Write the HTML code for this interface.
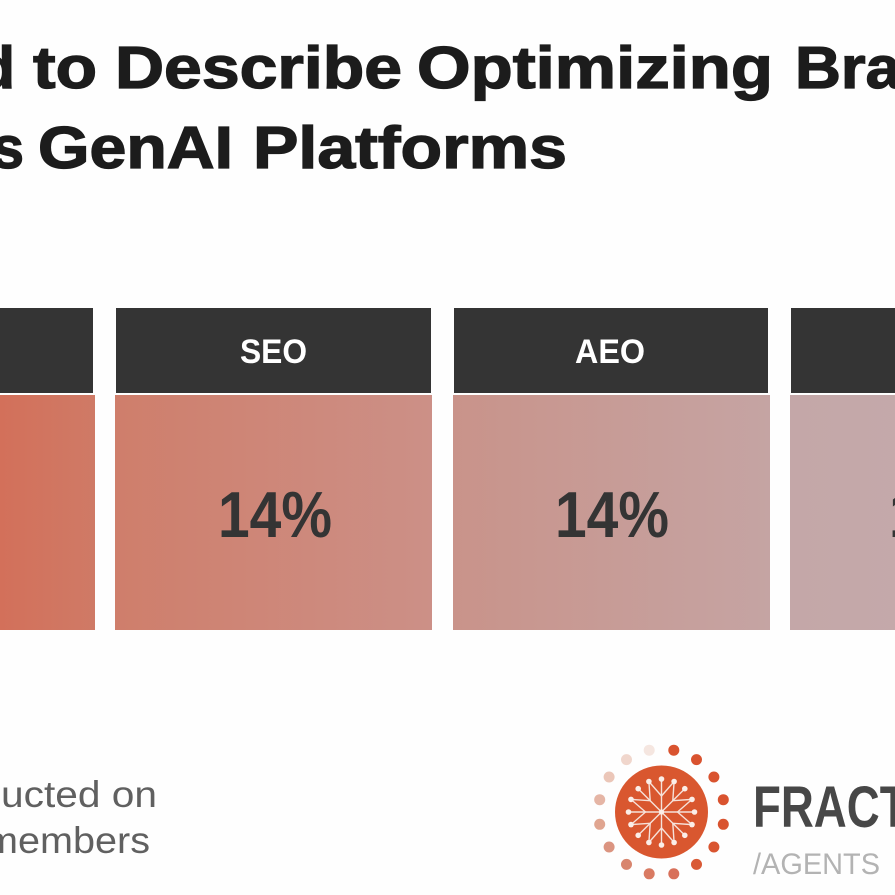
<!DOCTYPE html>
<html>
<head>
<meta charset="utf-8">
<style>
  html,body{margin:0;padding:0;background:#fefefe;}
  svg{display:block;}
  text{font-family:"Liberation Sans",sans-serif;}
</style>
</head>
<body>
<svg width="895" height="895" viewBox="0 0 895 895" xmlns="http://www.w3.org/2000/svg">
  <defs>
    <linearGradient id="g1" x1="0" x2="1" y1="0" y2="0">
      <stop offset="0" stop-color="#d3705a"/>
      <stop offset="1" stop-color="#cf7a66"/>
    </linearGradient>
    <linearGradient id="g2" x1="0" x2="1" y1="0" y2="0">
      <stop offset="0" stop-color="#cf7e6b"/>
      <stop offset="1" stop-color="#cc9087"/>
    </linearGradient>
    <linearGradient id="g3" x1="0" x2="1" y1="0" y2="0">
      <stop offset="0" stop-color="#c9938a"/>
      <stop offset="1" stop-color="#c5a4a3"/>
    </linearGradient>
    <linearGradient id="g4" x1="0" x2="1" y1="0" y2="0">
      <stop offset="0" stop-color="#c4a7a8"/>
      <stop offset="1" stop-color="#c4a9aa"/>
    </linearGradient>
  </defs>

  <rect width="895" height="895" fill="#fefefe"/>

  <!-- Title -->
  <g font-weight="bold" font-size="59" fill="#1c1c1c" stroke="#1c1c1c" stroke-width="1.3">
    <text x="-22" y="88" textLength="37" lengthAdjust="spacingAndGlyphs">d</text>
    <text x="33" y="88" textLength="64" lengthAdjust="spacingAndGlyphs">to</text>
    <text x="115" y="88" textLength="287" lengthAdjust="spacingAndGlyphs">Describe</text>
    <text x="417" y="88" textLength="356" lengthAdjust="spacingAndGlyphs">Optimizing</text>
    <text x="795" y="88" textLength="106" lengthAdjust="spacingAndGlyphs">Bra</text>
    <text x="-8" y="168" textLength="32" lengthAdjust="spacingAndGlyphs">s</text>
    <text x="38" y="168" textLength="195" lengthAdjust="spacingAndGlyphs">GenAI</text>
    <text x="253" y="168" textLength="314" lengthAdjust="spacingAndGlyphs">Platforms</text>
  </g>

  <!-- Boxes -->
  <rect x="0" y="308" width="93" height="85" fill="#343434"/>
  <rect x="0" y="395" width="95" height="235" fill="url(#g1)"/>

  <rect x="116" y="308" width="315" height="85" fill="#343434"/>
  <rect x="115" y="395" width="317" height="235" fill="url(#g2)"/>

  <rect x="454" y="308" width="314" height="85" fill="#343434"/>
  <rect x="453" y="395" width="317" height="235" fill="url(#g3)"/>

  <rect x="791" y="308" width="120" height="85" fill="#343434"/>
  <rect x="790" y="395" width="120" height="235" fill="url(#g4)"/>

  <g font-weight="bold" font-size="34" fill="#ffffff">
    <text x="240" y="363" textLength="67" lengthAdjust="spacingAndGlyphs">SEO</text>
    <text x="575" y="363" textLength="70" lengthAdjust="spacingAndGlyphs">AEO</text>
  </g>
  <g font-weight="bold" font-size="65" fill="#343434">
    <text x="218" y="537" textLength="114" lengthAdjust="spacingAndGlyphs">14%</text>
    <text x="555" y="537" textLength="114" lengthAdjust="spacingAndGlyphs">14%</text>
    <text x="889" y="537" textLength="114" lengthAdjust="spacingAndGlyphs">14%</text>
  </g>

  <!-- Footer text -->
  <g font-size="37" fill="#606060">
    <text x="1" y="807" textLength="156" lengthAdjust="spacingAndGlyphs">ucted on</text>
    <text x="-15" y="853" textLength="165" lengthAdjust="spacingAndGlyphs">members</text>
  </g>

  <!-- Logo -->
  <g>
    <circle cx="673.8" cy="750.2" r="5.5" fill="#d9532f"/>
    <circle cx="696.5" cy="759.6" r="5.5" fill="#d9532f"/>
    <circle cx="713.9" cy="777.0" r="5.5" fill="#d9532f"/>
    <circle cx="723.3" cy="799.7" r="5.5" fill="#d9532f"/>
    <circle cx="723.3" cy="824.3" r="5.5" fill="#d9532f"/>
    <circle cx="713.9" cy="847.0" r="5.5" fill="#d95530"/>
    <circle cx="696.5" cy="864.4" r="5.5" fill="#d95a36"/>
    <circle cx="673.8" cy="873.8" r="5.5" fill="#d8705a"/>
    <circle cx="649.2" cy="873.8" r="5.5" fill="#d97a62"/>
    <circle cx="626.5" cy="864.4" r="5.5" fill="#d8856e"/>
    <circle cx="609.1" cy="847.0" r="5.5" fill="#db9480"/>
    <circle cx="599.7" cy="824.3" r="5.5" fill="#e0a590"/>
    <circle cx="599.7" cy="799.7" r="5.5" fill="#e5b5a5"/>
    <circle cx="609.1" cy="777.0" r="5.5" fill="#ebc6b8"/>
    <circle cx="626.5" cy="759.6" r="5.5" fill="#f0d6cc"/>
    <circle cx="649.2" cy="750.2" r="5.5" fill="#f5e6e0"/>

    <circle cx="661.5" cy="812" r="46.5" fill="#d9572f"/>
    <g stroke="#f6e2da" stroke-width="1.4" fill="none">
      <line x1="661.5" y1="812" x2="661.5" y2="779"/>
      <line x1="661.5" y1="812" x2="661.5" y2="845"/>
      <line x1="661.5" y1="812" x2="628.5" y2="812"/>
      <line x1="661.5" y1="812" x2="694.5" y2="812"/>
      <line x1="661.5" y1="812" x2="684.8" y2="788.7"/>
      <line x1="661.5" y1="812" x2="638.2" y2="788.7"/>
      <line x1="661.5" y1="812" x2="684.8" y2="835.3"/>
      <line x1="661.5" y1="812" x2="638.2" y2="835.3"/>
      <polyline points="661.5,796 674.1,781.5 672.8,800.7"/>
      <polyline points="661.5,796 648.9,781.5 650.2,800.7"/>
      <polyline points="661.5,828 674.1,842.5 672.8,823.3"/>
      <polyline points="661.5,828 648.9,842.5 650.2,823.3"/>
      <polyline points="677.5,812 692,799.4 672.8,800.7"/>
      <polyline points="677.5,812 692,824.6 672.8,823.3"/>
      <polyline points="645.5,812 631,799.4 650.2,800.7"/>
      <polyline points="645.5,812 631,824.6 650.2,823.3"/>
    </g>
    <g fill="#fbeee8">
      <circle cx="661.5" cy="812" r="2.6"/>
      <circle cx="661.5" cy="779" r="2.8"/>
      <circle cx="661.5" cy="845" r="2.8"/>
      <circle cx="628.5" cy="812" r="2.8"/>
      <circle cx="694.5" cy="812" r="2.8"/>
      <circle cx="684.8" cy="788.7" r="2.8"/>
      <circle cx="638.2" cy="788.7" r="2.8"/>
      <circle cx="684.8" cy="835.3" r="2.8"/>
      <circle cx="638.2" cy="835.3" r="2.8"/>
      <circle cx="674.1" cy="781.5" r="2.8"/>
      <circle cx="648.9" cy="781.5" r="2.8"/>
      <circle cx="674.1" cy="842.5" r="2.8"/>
      <circle cx="648.9" cy="842.5" r="2.8"/>
      <circle cx="692" cy="799.4" r="2.8"/>
      <circle cx="692" cy="824.6" r="2.8"/>
      <circle cx="631" cy="799.4" r="2.8"/>
      <circle cx="631" cy="824.6" r="2.8"/>
    </g>

    <text x="753" y="827" font-size="58" font-weight="bold" fill="#474747" textLength="212" lengthAdjust="spacingAndGlyphs">FRACTAL</text>
    <text x="753" y="874" font-size="30" fill="#b3b3b3" textLength="127" lengthAdjust="spacingAndGlyphs">/AGENTS</text>
  </g>
</svg>
</body>
</html>
